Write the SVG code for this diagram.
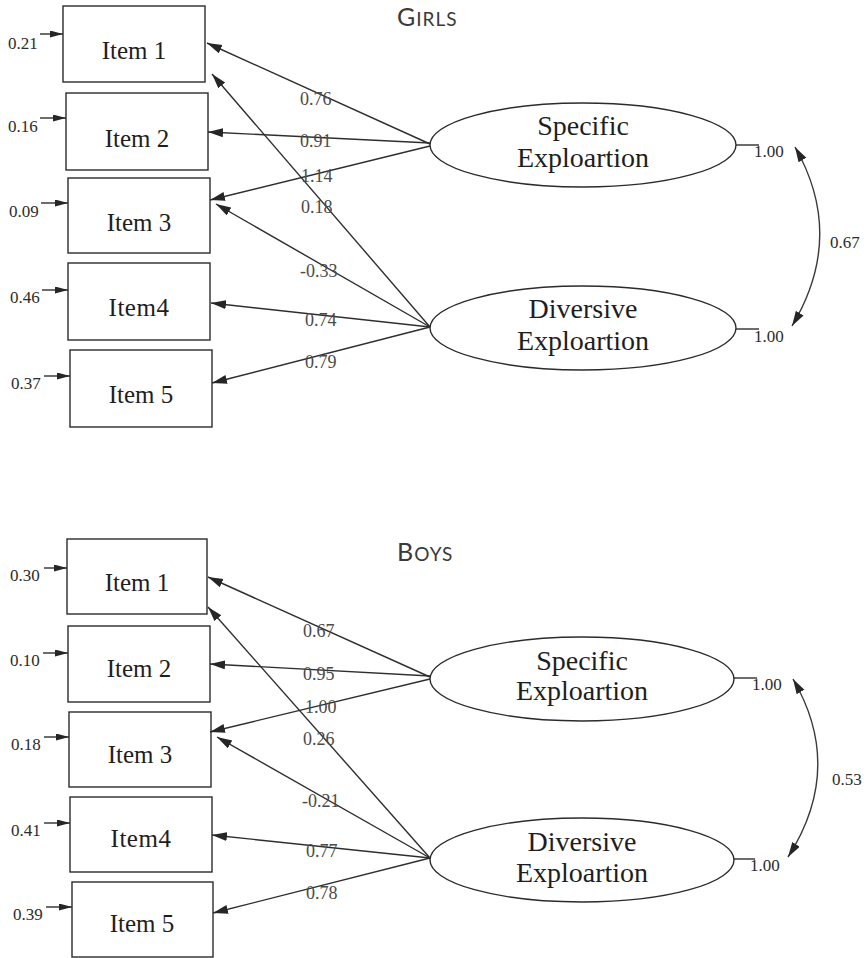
<svg xmlns="http://www.w3.org/2000/svg" width="868" height="958" viewBox="0 0 868 958">
  <style>
    .box { fill: #ffffff; stroke: #2b2b2b; stroke-width: 1.4; }
    .lat { fill: #ffffff; stroke: #2b2b2b; stroke-width: 1.4; }
    .item { font-family: "Liberation Serif", "Times New Roman", serif; font-size: 25px; fill: #1e1e1e; text-anchor: middle; }
    .lname { font-family: "Liberation Serif", "Times New Roman", serif; font-size: 28px; fill: #1e1e1e; text-anchor: middle; }
    .err { font-family: "Liberation Serif", "Times New Roman", serif; font-size: 17px; fill: #2b2b2b; }
    .coef { font-family: "Liberation Serif", "Times New Roman", serif; font-size: 18px; fill: #4a4a4a; }
    .var { font-family: "Liberation Serif", "Times New Roman", serif; font-size: 17px; fill: #2b2b2b; }
    .title { font-family: Lato, "Open Sans", sans-serif; fill: #3a3a3a; letter-spacing: 1px; }
    .edge { fill: none; stroke: #2e2e2e; stroke-width: 1.4; marker-end: url(#head); }
    .eerr { fill: none; stroke: #2e2e2e; stroke-width: 1.4; marker-end: url(#shead); }
    .corr { fill: none; stroke: #3a3a3a; stroke-width: 1.4; marker-start: url(#head2); marker-end: url(#head2); }
    .tick { fill: none; stroke: #2e2e2e; stroke-width: 1.4; }
  </style>
  <defs>
    <marker id="head" markerUnits="userSpaceOnUse" markerWidth="16" markerHeight="10" refX="15" refY="4.5" orient="auto">
      <path d="M0,0 L15,4.5 L0,9 z" fill="#262626"/>
    </marker>
    <marker id="head2" markerUnits="userSpaceOnUse" markerWidth="16" markerHeight="10" refX="15" refY="4.5" orient="auto-start-reverse">
      <path d="M0,0 L15,4.5 L0,9 z" fill="#262626"/>
    </marker>
    <marker id="shead" markerUnits="userSpaceOnUse" markerWidth="14" markerHeight="8" refX="13" refY="3.5" orient="auto">
      <path d="M0,0 L13,3.5 L0,7 z" fill="#262626"/>
    </marker>
  </defs>

  <rect width="868" height="958" fill="#ffffff"/>

  <!-- ===== Girls model ===== -->
  <text class="title" x="397" y="26"><tspan font-size="25">G</tspan><tspan font-size="19">IRLS</tspan></text>

  <g id="girls-item1"><rect class="box" x="63" y="6" width="142" height="76"/><text class="item" x="134" y="59">Item 1</text></g>
  <g id="girls-item2"><rect class="box" x="66" y="93" width="142" height="77"/><text class="item" x="137" y="147">Item 2</text></g>
  <g id="girls-item3"><rect class="box" x="68" y="178" width="142" height="75"/><text class="item" x="139" y="231">Item 3</text></g>
  <g id="girls-item4"><rect class="box" x="68" y="263" width="142" height="77"/><text class="item" x="139" y="316" letter-spacing="0.5">Item4</text></g>
  <g id="girls-item5"><rect class="box" x="70" y="350" width="142" height="77"/><text class="item" x="141" y="403">Item 5</text></g>

  <g id="girls-specific"><ellipse class="lat" cx="583" cy="145" rx="153" ry="42"/><text class="lname" x="583" y="135">Specific</text><text class="lname" x="583" y="167">Exploartion</text></g>
  <g id="girls-diversive"><ellipse class="lat" cx="583" cy="328" rx="153" ry="42"/><text class="lname" x="583" y="318">Diversive</text><text class="lname" x="583" y="350">Exploartion</text></g>

  <g id="girls-connectors">
    <!-- item error terms -->
    <path class="eerr" d="M40,34 H63"/>
    <path class="eerr" d="M40,118 H66"/>
    <path class="eerr" d="M41,203 H68"/>
    <path class="eerr" d="M42,290 H68"/>
    <path class="eerr" d="M44,376 H70"/>
    <!-- loadings -->
    <path class="edge" d="M430,144 L207,43"/>
    <path class="edge" d="M430,143 L208,132"/>
    <path class="edge" d="M430,146 L210,200"/>
    <path class="edge" d="M430,327 L212,74"/>
    <path class="edge" d="M430,327 L216,204"/>
    <path class="edge" d="M430,327 L211,303"/>
    <path class="edge" d="M430,327 L212,383"/>
    <!-- latent variances -->
    <path class="tick" d="M736,145 H759"/>
    <path class="tick" d="M736,329 H759"/>
    <!-- factor correlation -->
    <path class="corr" d="M795,147 Q846,236 792,326"/>
  </g>

  <g id="girls-labels">
    <text class="err" x="8" y="49">0.21</text>
    <text class="err" x="8" y="132">0.16</text>
    <text class="err" x="9" y="217">0.09</text>
    <text class="err" x="10" y="303">0.46</text>
    <text class="err" x="11" y="389">0.37</text>
    <text class="coef" x="300" y="105">0.76</text>
    <text class="coef" x="300" y="147">0.91</text>
    <text class="coef" x="301" y="182">1.14</text>
    <text class="coef" x="301" y="213">0.18</text>
    <text class="coef" x="300" y="277">-0.33</text>
    <text class="coef" x="305" y="326">0.74</text>
    <text class="coef" x="305" y="368">0.79</text>
    <text class="var" x="754" y="157">1.00</text>
    <text class="var" x="754" y="342">1.00</text>
    <text class="var" x="830" y="248">0.67</text>
  </g>

  <!-- ===== Boys model ===== -->
  <text class="title" x="397" y="561"><tspan font-size="25">B</tspan><tspan font-size="19">OYS</tspan></text>

  <g id="boys-item1"><rect class="box" x="67" y="539" width="140" height="75"/><text class="item" x="137" y="591">Item 1</text></g>
  <g id="boys-item2"><rect class="box" x="68" y="626" width="142" height="76"/><text class="item" x="139" y="677">Item 2</text></g>
  <g id="boys-item3"><rect class="box" x="69" y="712" width="142" height="75"/><text class="item" x="140" y="763">Item 3</text></g>
  <g id="boys-item4"><rect class="box" x="70" y="797" width="142" height="75"/><text class="item" x="141" y="847" letter-spacing="0.5">Item4</text></g>
  <g id="boys-item5"><rect class="box" x="72" y="882" width="141" height="75"/><text class="item" x="142" y="932">Item 5</text></g>

  <g id="boys-specific"><ellipse class="lat" cx="582" cy="679" rx="152" ry="42"/><text class="lname" x="582" y="670">Specific</text><text class="lname" x="582" y="700">Exploartion</text></g>
  <g id="boys-diversive"><ellipse class="lat" cx="582" cy="860" rx="152" ry="42"/><text class="lname" x="582" y="851">Diversive</text><text class="lname" x="582" y="882">Exploartion</text></g>

  <g id="boys-connectors">
    <path class="eerr" d="M44,568 H67"/>
    <path class="eerr" d="M43,653 H68"/>
    <path class="eerr" d="M44,737 H69"/>
    <path class="eerr" d="M44,823 H70"/>
    <path class="eerr" d="M46,907 H72"/>
    <path class="edge" d="M430,677 L208,577"/>
    <path class="edge" d="M430,676 L210,664"/>
    <path class="edge" d="M430,679 L210,732"/>
    <path class="edge" d="M430,858 L208,607"/>
    <path class="edge" d="M430,858 L217,737"/>
    <path class="edge" d="M430,858 L212,835"/>
    <path class="edge" d="M430,858 L213,913"/>
    <path class="tick" d="M734,678 H757"/>
    <path class="tick" d="M734,859 H755"/>
    <path class="corr" d="M793,679 Q845,768 788,857"/>
  </g>

  <g id="boys-labels">
    <text class="err" x="10" y="581">0.30</text>
    <text class="err" x="10" y="666">0.10</text>
    <text class="err" x="11" y="750">0.18</text>
    <text class="err" x="11" y="836">0.41</text>
    <text class="err" x="13" y="920">0.39</text>
    <text class="coef" x="303" y="637">0.67</text>
    <text class="coef" x="303" y="680">0.95</text>
    <text class="coef" x="305" y="713">1.00</text>
    <text class="coef" x="303" y="745">0.26</text>
    <text class="coef" x="302" y="807">-0.21</text>
    <text class="coef" x="306" y="857">0.77</text>
    <text class="coef" x="306" y="899">0.78</text>
    <text class="var" x="752" y="690">1.00</text>
    <text class="var" x="750" y="871">1.00</text>
    <text class="var" x="832" y="785">0.53</text>
  </g>
</svg>
